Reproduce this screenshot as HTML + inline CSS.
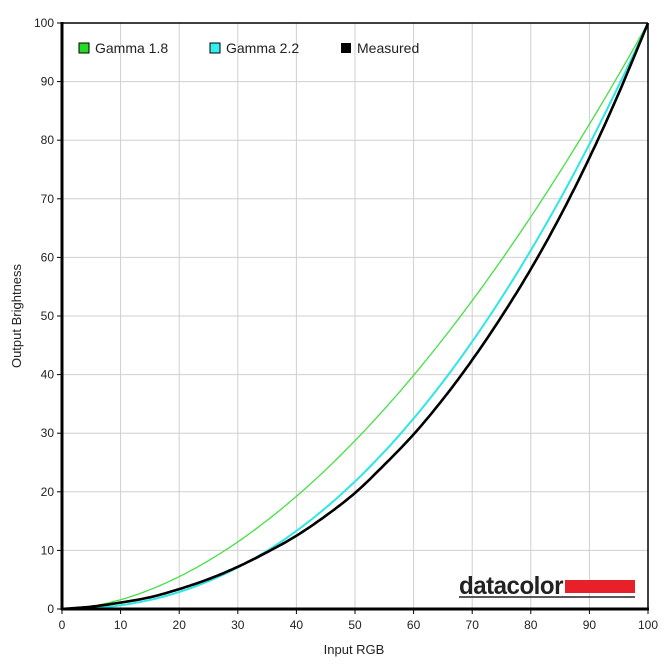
<!DOCTYPE html>
<html><head><meta charset="utf-8"><style>
html,body{margin:0;padding:0;background:#fff;}
svg{display:block;font-family:"Liberation Sans",sans-serif;}
</style></head><body>
<svg id="s" width="671" height="670" xmlns="http://www.w3.org/2000/svg">
<rect width="671" height="670" fill="#fff"/>
<g id="grid" stroke="#d0d0d0" stroke-width="1"></g>
<g id="lbl" font-size="12" fill="#222"></g>
<line x1="62" y1="23" x2="648" y2="23" stroke="#000" stroke-width="1.5"/>
<line x1="648" y1="23" x2="648" y2="609" stroke="#000" stroke-width="1.5"/>
<polyline id="g18" fill="none" stroke="#44e044" stroke-width="1.3"/>
<polyline id="g22" fill="none" stroke="#2fe6e6" stroke-width="2"/>
<polyline id="ms" fill="none" stroke="#000" stroke-width="2.6" stroke-linejoin="round"/>
<line x1="62" y1="22" x2="62" y2="610" stroke="#000" stroke-width="3"/>
<line x1="61" y1="609" x2="649" y2="609" stroke="#000" stroke-width="3"/>
<rect x="79" y="43" width="10" height="10" fill="#22dd22" stroke="#000" stroke-width="1"/>
<text x="95" y="53" font-size="14" fill="#222">Gamma 1.8</text>
<rect x="210" y="43" width="10" height="10" fill="#33eeee" stroke="#000" stroke-width="1"/>
<text x="226" y="53" font-size="14" fill="#222">Gamma 2.2</text>
<rect x="341" y="43" width="10" height="10" fill="#000"/>
<text x="357" y="53" font-size="14" fill="#222">Measured</text>
<text x="354" y="654" font-size="13" text-anchor="middle" fill="#222">Input RGB</text>
<text transform="translate(21,316) rotate(-90)" font-size="13" text-anchor="middle" fill="#222">Output Brightness</text>
<text x="459" y="594" font-size="25" font-weight="bold" fill="#222" letter-spacing="-0.5" textLength="104" lengthAdjust="spacingAndGlyphs">datacolor</text>
<rect x="565" y="580" width="70" height="13" fill="#e8202a"/>
<line x1="459" y1="597" x2="635" y2="597" stroke="#222" stroke-width="1.5"/>
</svg>
<script>
var X=v=>62+v*5.86, Y=v=>609-v*5.86;
var g=document.getElementById('grid'),l=document.getElementById('lbl'),ns='http://www.w3.org/2000/svg';
for(var i=0;i<=10;i++){
 var x=X(i*10),y=Y(i*10);
 if(i>0&&i<10){
 var a=document.createElementNS(ns,'line');a.setAttribute('x1',x);a.setAttribute('x2',x);a.setAttribute('y1',23);a.setAttribute('y2',609);g.appendChild(a);
 var b=document.createElementNS(ns,'line');b.setAttribute('x1',62);b.setAttribute('x2',648);b.setAttribute('y1',y);b.setAttribute('y2',y);g.appendChild(b);}
 var tk=document.createElementNS(ns,'line');tk.setAttribute('x1',x);tk.setAttribute('x2',x);tk.setAttribute('y1',609);tk.setAttribute('y2',614);tk.setAttribute('stroke','#000');g.appendChild(tk);
 var tk2=document.createElementNS(ns,'line');tk2.setAttribute('x1',57);tk2.setAttribute('x2',62);tk2.setAttribute('y1',y);tk2.setAttribute('y2',y);tk2.setAttribute('stroke','#000');g.appendChild(tk2);
 var t=document.createElementNS(ns,'text');t.setAttribute('x',x);t.setAttribute('y',629);t.setAttribute('text-anchor','middle');t.textContent=i*10;l.appendChild(t);
 var u=document.createElementNS(ns,'text');u.setAttribute('x',54);u.setAttribute('y',y+4);u.setAttribute('text-anchor','end');u.textContent=i*10;l.appendChild(u);
}
function curve(id,f){var p=[];for(var v=0;v<=100;v+=1)p.push(X(v).toFixed(1)+','+Y(f(v)).toFixed(1));document.getElementById(id).setAttribute('points',p.join(' '));}
curve('g18',v=>100*Math.pow(v/100,1.8));
curve('g22',v=>100*Math.pow(v/100,2.2));
var m=[[0,0],[5,0.4],[10,1.1],[15,2],[20,3.4],[25,5.1],[30,7.2],[35,9.7],[40,12.5],[45,15.9],[50,19.8],[55,24.6],[60,29.8],[65,35.8],[70,42.5],[75,49.9],[80,58],[85,67],[90,77],[95,88],[100,100]];
var pts=[];
for(var k=0;k<m.length-1;k++){
 var p0=m[Math.max(k-1,0)],p1=m[k],p2=m[k+1],p3=m[Math.min(k+2,m.length-1)];
 for(var s=0;s<10;s++){var t=s/10,t2=t*t,t3=t2*t;
  var f=(a,b,c,d)=>0.5*(2*b+(-a+c)*t+(2*a-5*b+4*c-d)*t2+(-a+3*b-3*c+d)*t3);
  pts.push(X(f(p0[0],p1[0],p2[0],p3[0])).toFixed(1)+','+Y(f(p0[1],p1[1],p2[1],p3[1])).toFixed(1));}
}
pts.push(X(100)+','+Y(100));
document.getElementById('ms').setAttribute('points',pts.join(' '));
</script>
</body></html>
